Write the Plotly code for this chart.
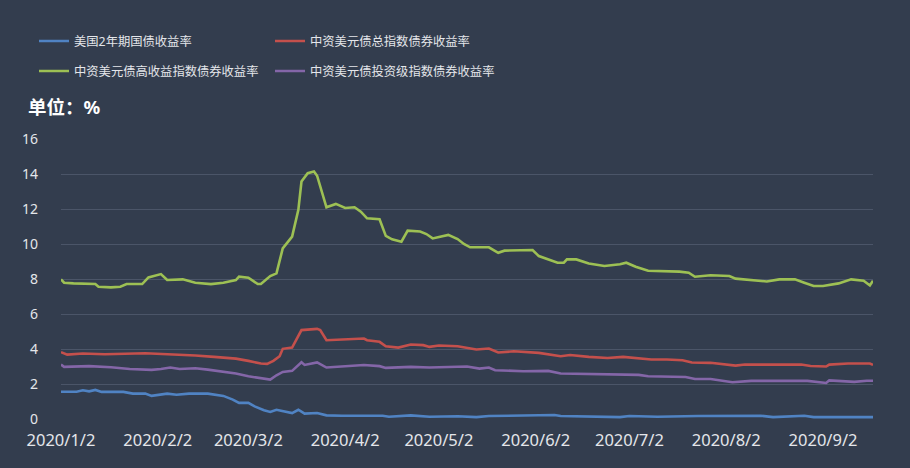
import plotly.graph_objects as go

# ---------------- data ----------------
series_names = ["美国2年期国债收益率", "中资美元债总指数债券收益率",
                "中资美元债高收益指数债券收益率", "中资美元债投资级指数债券收益率"]
series_colors = ["#5083C3", "#C4504C", "#9DC054", "#8466A8"]

ust2y_dates = ["01-02", "01-07", "01-09", "01-11", "01-13", "01-15", "01-22", "01-25", "01-29", "01-31",
               "02-05", "02-08", "02-12", "02-18", "02-23", "02-26", "02-28", "03-02", "03-04", "03-07",
               "03-09", "03-11", "03-16", "03-18", "03-20", "03-24", "03-27", "04-01", "04-14", "04-16",
               "04-23", "04-29", "05-08", "05-14", "05-18", "06-08", "06-10", "06-29", "07-02", "07-11",
               "07-24", "08-13", "08-17", "08-24", "08-27", "08-30", "09-18"]
ust2y_vals = [1.56, 1.56, 1.64, 1.58, 1.66, 1.55, 1.55, 1.45, 1.45, 1.32,
              1.45, 1.39, 1.45, 1.45, 1.32, 1.11, 0.92, 0.92, 0.72, 0.50,
              0.40, 0.53, 0.34, 0.53, 0.31, 0.34, 0.21, 0.19, 0.19, 0.13,
              0.21, 0.13, 0.16, 0.11, 0.17, 0.23, 0.17, 0.11, 0.17, 0.13,
              0.17, 0.19, 0.11, 0.17, 0.19, 0.11, 0.11]

total_dates = ["01-02", "01-04", "01-09", "01-16", "01-29", "02-07", "02-14", "02-20", "02-27", "03-02",
               "03-06", "03-08", "03-10", "03-12", "03-13", "03-16", "03-19", "03-24", "03-25", "03-27",
               "04-01", "04-08", "04-09", "04-13", "04-15", "04-19", "04-23", "04-27", "04-29", "05-02",
               "05-08", "05-11", "05-14", "05-18", "05-21", "05-26", "06-03", "06-10", "06-13", "06-19",
               "06-25", "06-30", "07-09", "07-14", "07-19", "07-22", "07-28", "08-05", "08-08", "08-26",
               "08-29", "09-03", "09-04", "09-10", "09-17", "09-18"]
total_vals = [3.82, 3.68, 3.74, 3.70, 3.76, 3.70, 3.63, 3.55, 3.45, 3.32,
              3.17, 3.15, 3.32, 3.59, 4.01, 4.08, 5.08, 5.15, 5.08, 4.50,
              4.54, 4.60, 4.50, 4.41, 4.16, 4.08, 4.26, 4.22, 4.12, 4.20,
              4.16, 4.08, 3.97, 4.03, 3.80, 3.87, 3.78, 3.59, 3.66, 3.55,
              3.49, 3.55, 3.40, 3.40, 3.36, 3.23, 3.21, 3.05, 3.11, 3.11,
              3.03, 3.00, 3.11, 3.17, 3.17, 3.09]

hy_dates = ["01-02", "01-03", "01-06", "01-11", "01-13", "01-14", "01-18", "01-21", "01-23", "01-28",
            "01-30", "02-03", "02-05", "02-10", "02-14", "02-19", "02-23", "02-27", "02-28", "03-02",
            "03-05", "03-06", "03-09", "03-11", "03-13", "03-16", "03-18", "03-19", "03-21", "03-23",
            "03-24", "03-27", "03-30", "04-02", "04-05", "04-07", "04-09", "04-13", "04-15", "04-17",
            "04-20", "04-22", "04-26", "04-28", "04-30", "05-05", "05-08", "05-10", "05-12", "05-18",
            "05-21", "05-23", "05-27", "06-01", "06-03", "06-09", "06-11", "06-12", "06-15", "06-19",
            "06-24", "06-29", "07-01", "07-04", "07-08", "07-18", "07-21", "07-23", "07-28", "08-03",
            "08-05", "08-12", "08-15", "08-19", "08-24", "08-27", "08-30", "09-02", "09-07", "09-11",
            "09-14", "09-15", "09-17", "09-18"]
hy_vals = [7.98, 7.79, 7.75, 7.71, 7.71, 7.56, 7.52, 7.56, 7.71, 7.71,
           8.09, 8.28, 7.94, 7.98, 7.79, 7.71, 7.79, 7.94, 8.13, 8.07,
           7.71, 7.71, 8.17, 8.32, 9.75, 10.42, 11.95, 13.57, 14.05, 14.14,
           13.90, 12.10, 12.29, 12.06, 12.10, 11.85, 11.47, 11.41, 10.46, 10.27,
           10.13, 10.76, 10.71, 10.57, 10.32, 10.52, 10.28, 10.00, 9.81, 9.81,
           9.50, 9.62, 9.62, 9.66, 9.31, 8.93, 8.93, 9.12, 9.12, 8.89,
           8.74, 8.84, 8.93, 8.70, 8.47, 8.42, 8.36, 8.13, 8.21, 8.17,
           8.02, 7.90, 7.86, 7.98, 7.98, 7.79, 7.60, 7.60, 7.75, 7.98,
           7.94, 7.90, 7.63, 7.90]

ig_dates = ["01-02", "01-03", "01-11", "01-18", "01-24", "01-31", "02-03", "02-06", "02-09", "02-14",
            "02-18", "02-23", "02-27", "03-02", "03-06", "03-09", "03-11", "03-13", "03-16", "03-19",
            "03-20", "03-24", "03-27", "04-01", "04-08", "04-13", "04-15", "04-23", "04-29", "05-11",
            "05-15", "05-18", "05-20", "05-29", "06-06", "06-10", "06-24", "07-05", "07-08", "07-20",
            "07-23", "07-28", "08-04", "08-10", "08-28", "09-03", "09-04", "09-12", "09-16", "09-18"]
ig_vals = [3.11, 2.98, 3.02, 2.96, 2.86, 2.81, 2.86, 2.94, 2.86, 2.90,
           2.82, 2.71, 2.60, 2.44, 2.31, 2.25, 2.50, 2.69, 2.75, 3.24,
           3.09, 3.23, 2.94, 3.02, 3.09, 3.02, 2.92, 2.98, 2.94, 3.00,
           2.88, 2.94, 2.79, 2.73, 2.75, 2.60, 2.56, 2.52, 2.44, 2.40,
           2.29, 2.29, 2.10, 2.18, 2.18, 2.06, 2.21, 2.12, 2.19, 2.19]

tick_dates = ["2020-01-02", "2020-02-02", "2020-03-02", "2020-04-02", "2020-05-02",
              "2020-06-02", "2020-07-02", "2020-08-02", "2020-09-02"]
tick_labels = ["2020/1/2", "2020/2/2", "2020/3/2", "2020/4/2", "2020/5/2",
               "2020/6/2", "2020/7/2", "2020/8/2", "2020/9/2"]
y_ticks = [0, 2, 4, 6, 8, 10, 12, 14, 16]
unit_label = "单位：%"

# ---------------- figure ----------------
BG = "#333D4E"
GRID = "#4B5568"
TXT = "#E4E6EA"
FONT = "Noto Sans, Noto Sans CJK SC, sans-serif"

all_dates = [ust2y_dates, total_dates, hy_dates, ig_dates]
all_vals = [ust2y_vals, total_vals, hy_vals, ig_vals]
legends = ["legend", "legend", "legend2", "legend2"]

fig = go.Figure()
for name, color, d, v, lg in zip(series_names, series_colors, all_dates, all_vals, legends):
    fig.add_trace(go.Scatter(
        x=["2020-" + s for s in d], y=v, name=name, mode="lines",
        line=dict(color=color, width=2.6), legend=lg,
    ))

W, H = 910, 468
ml, mr, mt, mb = 61, 37, 139, 49
pw, ph = W - ml - mr, H - mt - mb


def px_x(x):
    return (x - ml) / pw


def px_y(y):
    return (H - mb - y) / ph


leg_common = dict(
    orientation="h", xanchor="left", yanchor="middle",
    bgcolor="rgba(0,0,0,0)", borderwidth=0,
    font=dict(family=FONT, size=12.3, color=TXT),
    entrywidth=191, entrywidthmode="pixels", itemwidth=30,
)

fig.update_layout(
    width=W, height=H,
    margin=dict(l=ml, r=mr, t=mt, b=mb, pad=0, autoexpand=False),
    paper_bgcolor=BG, plot_bgcolor=BG,
    font=dict(family=FONT, color=TXT),
    showlegend=True,
    legend=dict(x=px_x(34), y=px_y(41), **leg_common),
    legend2=dict(x=px_x(34), y=px_y(71), **leg_common),
    xaxis=dict(
        type="date", range=["2020-01-02", "2020-09-18"],
        tickvals=tick_dates, ticktext=tick_labels,
        showgrid=False, zeroline=False, showline=False, ticks="",
        tickfont=dict(family=FONT, size=16.5, color=TXT),
        ticklabelstandoff=9,
    ),
    yaxis=dict(
        range=[0, 16], tickvals=y_ticks,
        showgrid=True, gridcolor=GRID, gridwidth=1.3,
        zeroline=False, showline=False, ticks="",
        tickfont=dict(family=FONT, size=14, color=TXT),
        ticklabelstandoff=22,
    ),
    annotations=[dict(
        text="<b>" + unit_label + "</b>", xref="paper", yref="paper",
        x=px_x(26), y=px_y(107), xanchor="left", yanchor="middle",
        showarrow=False, font=dict(family=FONT, size=18.5, color="#FFFFFF"),
    )],
)

fig.write_html(
    "out.html",
    config={"displayModeBar": False},
    post_script="document.body.style.margin='0';document.body.style.background='" + BG + "';",
)
